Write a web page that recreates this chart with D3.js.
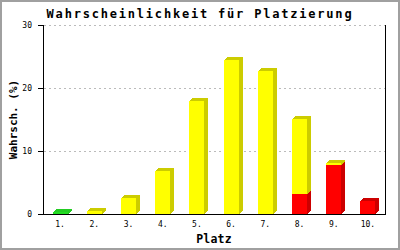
<!DOCTYPE html>
<html>
<head>
<meta charset="utf-8">
<script src="https://cdn.jsdelivr.net/npm/d3@7"></script>
<style>
  body { margin: 0; background: #fff; }
  svg text { font-family: "DejaVu Sans Mono", monospace; }
</style>
</head>
<body>
<div id="chart"></div>
<script>
const categories = ["1.", "2.", "3.", "4.", "5.", "6.", "7.", "8.", "9.", "10."]
const greenValues = [0.3, 0, 0, 0, 0, 0, 0, 0, 0, 0]
const redValues = [0, 0, 0, 0, 0, 0, 0, 3.2, 7.8, 2.1]
const yellowValues = [0, 0.5, 2.6, 6.9, 17.9, 24.4, 22.7, 11.9, 0.3, 0]
const yTicks = [0, 10, 20, 30]

function draw() {
  const dimensions = {
    width: 400,
    height: 250,
    margin: { top: 25, left: 43, bottom: 36, right: 15 },
  }
  dimensions.ctrWidth = dimensions.width - dimensions.margin.left - dimensions.margin.right
  dimensions.ctrHeight = dimensions.height - dimensions.margin.top - dimensions.margin.bottom

  const series = [
    { name: "gruen", values: greenValues, front: "#22dd22", side: "#22cc22" },
    { name: "rot", values: redValues, front: "#ff0000", side: "#cc0000" },
    { name: "gelb", values: yellowValues, front: "#ffff00", side: "#cccc00" },
  ]

  const xScale = d3.scaleBand()
    .domain(categories)
    .range([0, dimensions.ctrWidth])
    .paddingInner(0.56)
    .paddingOuter(0.28)

  const yScale = d3.scaleLinear()
    .domain([0, 30])
    .range([dimensions.ctrHeight, 0])

  const svg = d3.select("#chart")
    .append("svg")
    .attr("width", dimensions.width)
    .attr("height", dimensions.height)

  // outer frame
  svg.append("rect")
    .attr("x", 1).attr("y", 1)
    .attr("width", dimensions.width - 2)
    .attr("height", dimensions.height - 2)
    .attr("fill", "#fff")
    .attr("stroke", "#a0a0a0")
    .attr("stroke-width", 2)

  svg.append("text")
    .attr("x", 200).attr("y", 17.5)
    .attr("text-anchor", "middle")
    .attr("font-size", 12)
    .attr("font-weight", "bold")
    .attr("letter-spacing", 1.8)
    .text("Wahrscheinlichkeit für Platzierung")

  const ctr = svg.append("g")
    .attr("transform", `translate(${dimensions.margin.left}, ${dimensions.margin.top})`)

  // grid
  ctr.append("g")
    .selectAll("line")
    .data(yTicks.filter(d => d > 0))
    .join("line")
    .attr("x1", 1).attr("x2", dimensions.ctrWidth)
    .attr("y1", d => Math.round(yScale(d)) + 0.5)
    .attr("y2", d => Math.round(yScale(d)) + 0.5)
    .attr("stroke", "#bbbbbb")
    .attr("stroke-dasharray", "2,3")

  // 3d bars, stacked
  const dx = 4, dy = 3
  const stacked = d3.stack()
    .keys(series.map(s => s.name))(categories.map((c, i) => {
      const row = { cat: c }
      series.forEach(s => { row[s.name] = s.values[i] })
      return row
    }))

  const barG = ctr.append("g").attr("shape-rendering", "crispEdges")
  stacked.forEach((layer, li) => {
    const s = series[li]
    const segs = layer.map((d, i) => ({ cat: categories[i], y0: d[0], y1: d[1] }))
      .filter(d => d.y1 - d.y0 > 0)
    const g = barG.append("g")
    segs.forEach(d => {
      const x = Math.round(xScale(d.cat))
      const w = Math.round(xScale.bandwidth())
      const yt = Math.round(yScale(d.y1))
      const yb = Math.round(yScale(d.y0))
      g.append("polygon")
        .attr("points", [[x + w, yt], [x + w + dx, yt - dy], [x + w + dx, yb - dy], [x + w, yb]].join(" "))
        .attr("fill", s.side)
      g.append("polygon")
        .attr("points", [[x, yt], [x + dx, yt - dy], [x + w + dx, yt - dy], [x + w, yt]].join(" "))
        .attr("fill", s.side)
      g.append("rect")
        .attr("x", x).attr("y", yt)
        .attr("width", w).attr("height", yb - yt)
        .attr("fill", s.front)
    })
  })

  // y axis
  const yAxisGroup = ctr.append("g")
    .call(d3.axisLeft(yScale).tickValues(yTicks).tickSize(5).tickPadding(6))
  yAxisGroup.select(".domain").remove()
  yAxisGroup.selectAll(".tick text")
    .attr("font-family", "DejaVu Sans Mono")
    .attr("font-size", 8)
    .attr("fill", "#000")

  yAxisGroup.append("text")
    .attr("x", -dimensions.ctrHeight / 2)
    .attr("y", -26)
    .attr("fill", "#000")
    .attr("font-size", 11)
    .attr("font-weight", "bold")
    .attr("font-family", "DejaVu Sans Mono")
    .style("transform", "rotate(-90deg)")
    .style("text-anchor", "middle")
    .text("Wahrsch. (%)")

  // x axis labels
  const xAxisGroup = ctr.append("g")
    .style("transform", `translateY(${dimensions.ctrHeight}px)`)
    .call(d3.axisBottom(xScale).tickSize(0).tickPadding(7))
  xAxisGroup.select(".domain").remove()
  xAxisGroup.selectAll(".tick text")
    .attr("font-family", "DejaVu Sans Mono")
    .attr("font-size", 8)
    .attr("fill", "#000")

  xAxisGroup.append("text")
    .attr("x", dimensions.ctrWidth / 2)
    .attr("y", 29)
    .attr("fill", "#000")
    .attr("font-size", 11.5)
    .attr("font-weight", "bold")
    .attr("font-family", "DejaVu Sans Mono")
    .attr("letter-spacing", 0.2)
    .style("text-anchor", "middle")
    .text("Platz")

  // frame lines: left axis, bottom axis, right edge
  const frame = ctr.append("g").attr("stroke", "#000").attr("shape-rendering", "crispEdges")
  frame.append("line").attr("x1", 0.5).attr("x2", 0.5).attr("y1", 0).attr("y2", dimensions.ctrHeight + 0.5)
  frame.append("line").attr("x1", 0).attr("x2", dimensions.ctrWidth + 0.5)
    .attr("y1", dimensions.ctrHeight + 0.5).attr("y2", dimensions.ctrHeight + 0.5)
  frame.append("line").attr("x1", dimensions.ctrWidth + 0.5).attr("x2", dimensions.ctrWidth + 0.5)
    .attr("y1", 0).attr("y2", dimensions.ctrHeight + 0.5)
}

draw()
</script>
</body>
</html>
